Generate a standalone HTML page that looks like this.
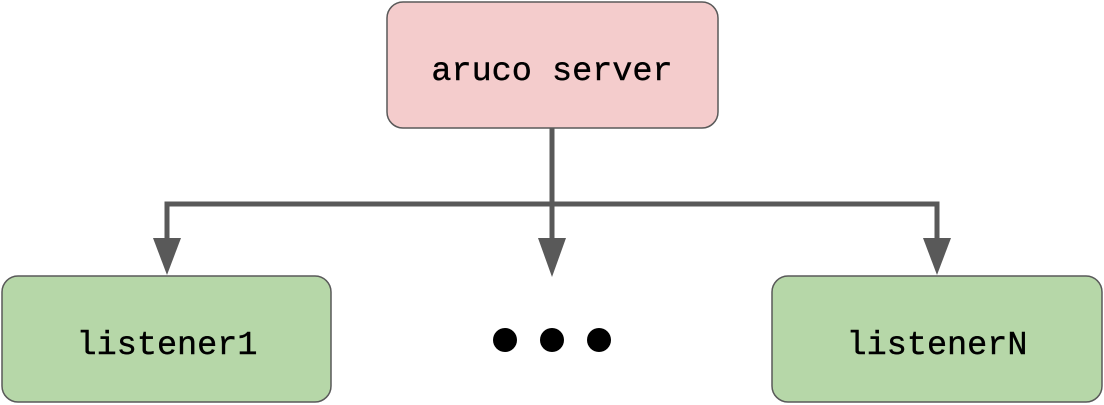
<!DOCTYPE html>
<html><head><style>
html,body{margin:0;padding:0;background:#fff;width:1104px;height:405px;overflow:hidden}
</style></head><body>
<svg width="1104" height="405" xmlns="http://www.w3.org/2000/svg">
<rect x="387" y="2" width="331" height="126" rx="16" fill="#f4cccc" stroke="#595959" stroke-width="1.5"/>
<rect x="2" y="276" width="329" height="126" rx="16" fill="#b6d7a8" stroke="#595959" stroke-width="1.5"/>
<rect x="772" y="276" width="330" height="126" rx="16" fill="#b6d7a8" stroke="#595959" stroke-width="1.5"/>
<g stroke="#595959" stroke-width="5" fill="none">
<line x1="552" y1="128" x2="552" y2="242"/>
<polyline points="167,242 167,204 937,204 937,242"/>
</g>
<g fill="#595959">
<polygon points="153,238 181,238 167,275"/>
<polygon points="538,238 566,238 552,277"/>
<polygon points="923,238 951,238 937,275"/>
</g>
<g fill="#000">
<circle cx="505" cy="340" r="12"/>
<circle cx="552" cy="340" r="12"/>
<circle cx="599" cy="340" r="12"/>
</g>
<g font-family="Liberation Mono, monospace" font-size="33.5" fill="#000" text-anchor="middle" stroke="#000" stroke-width="0.4">
<text x="552" y="80">aruco server</text>
<text x="167" y="354">listener1</text>
<text x="937" y="354">listenerN</text>
</g>
</svg>
</body></html>
